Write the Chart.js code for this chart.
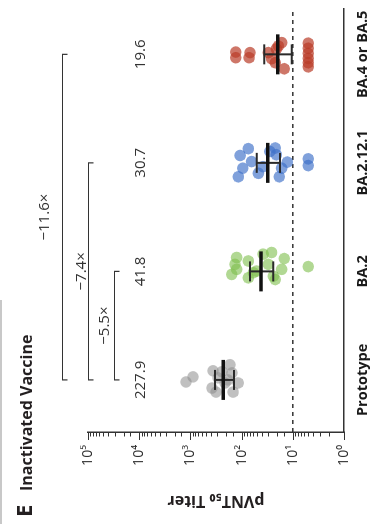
<!DOCTYPE html>
<html>
<head>
<meta charset="utf-8">
<script src="https://cdn.jsdelivr.net/npm/chart.js@4.4.1/dist/chart.umd.min.js"></script>
<style>
  html, body { margin: 0; padding: 0; background: #fff; overflow: hidden; }
  /* the figure is drawn upright and turned a quarter turn to the left */
  #wrap { position: absolute; left: 0; top: 0; width: 524px; height: 390px;
          transform-origin: 0 0; transform: translateY(524px) rotate(-90deg); }
</style>
</head>
<body>
<div id="wrap"><canvas id="chart" width="524" height="390"></canvas></div>
<script>
// Categorias e valores
const categories = ['Prototype', 'BA.2', 'BA.2.12.1', 'BA.4 or BA.5'];
const gmt = [227.9, 41.8, 30.7, 19.6];
const gmtLabels = ['227.9', '41.8', '30.7', '19.6'];
const errLow = [141, 24, 17.8, 10.5];
const errHigh = [331, 68.5, 50.7, 36.2];

const protoTiters = [1219, 889, 362, 379, 289, 169, 154, 147, 117, 211, 242, 316, 185];
const protoJitter = [-0.019, 0.028, 0.084, -0.075, 0.019, 0.14, 0.065, -0.112, -0.028, -0.028, 0.075, -0.112, 0];

const ba2Titers = [125, 135, 125, 156, 74, 74, 51, 38, 26, 30, 14.7, 16.5, 22, 59, 5, 24];
const ba2Jitter = [0.128, 0.065, 0.019, -0.028, 0.096, -0.059, 0.003, 0.159, 0.174, 0.065, 0.118, 0.019, -0.075, -0.012, 0.044, -0.044];

const ba2121Titers = [74, 107, 95, 116, 64, 47, 38, 28, 22, 21, 16.5, 18.4, 12.8, 5, 5];
const ba2121Jitter = [0.131, 0.068, -0.049, -0.128, 0.012, -0.096, -0.035, 0.105, 0.137, 0.075, -0.049, -0.128, 0.007, 0.037, -0.025];

const ba45Titers = [130, 130, 68.5, 71.6, 30, 22, 19.2, 16.5, 14.7, 26, 21, 5, 5, 5, 5, 5, 5];
const ba45Jitter = [0.021, -0.031, 0.016, -0.031, 0.016, -0.077, 0.077, 0.108, -0.133, -0.04, 0.05, 0.103, 0.056, 0.009, -0.037, -0.077, -0.115];

const lod = 10;

// Comparações (colchetes) e rótulos de fold
const bracketFrom = [0, 0, 0];
const bracketTo = [3, 2, 1];
const bracketLevel = [316000, 100000, 31600];
const foldLabels = ['\u221211.6\u00d7', '\u22127.4\u00d7', '\u22125.5\u00d7'];

// Ticks do eixo log
const yMajorTicks = [1, 10, 100, 1000, 10000, 100000];
const yTickLabels = ['10\u2070', '10\u00b9', '10\u00b2', '10\u00b3', '10\u2074', '10\u2075'];

const FONT = "'Open Sans', 'Noto Sans', sans-serif";
Chart.defaults.font.family = FONT;

function majorIndex(v) {
  for (let i = 0; i < yMajorTicks.length; i++) {
    if (Math.abs(Math.log10(v) - Math.log10(yMajorTicks[i])) < 1e-6) return i;
  }
  return -1;
}

function points(titers, jitter, idx) {
  return titers.map(function(t, i) { return { x: idx + jitter[i], y: t }; });
}

const extras = {
  id: 'extras',
  beforeDatasetsDraw(chart) {
    const ctx = chart.ctx, y = chart.scales.y, area = chart.chartArea;
    const py = y.getPixelForValue(lod);
    ctx.save();
    ctx.strokeStyle = '#333';
    ctx.lineWidth = 1.5;
    ctx.setLineDash([4, 4]);
    ctx.beginPath();
    ctx.moveTo(area.left, py);
    ctx.lineTo(area.right, py);
    ctx.stroke();
    ctx.restore();
  },
  afterDatasetsDraw(chart) {
    const ctx = chart.ctx, x = chart.scales.x, y = chart.scales.y;
    ctx.save();
    gmt.forEach(function(m, i) {
      const px = x.getPixelForValue(i);
      const lo = y.getPixelForValue(errLow[i]);
      const hi = y.getPixelForValue(errHigh[i]);
      ctx.strokeStyle = '#2a2a2a';
      ctx.lineWidth = 2;
      ctx.beginPath();
      ctx.moveTo(px, lo); ctx.lineTo(px, hi);
      ctx.moveTo(px - 10, lo); ctx.lineTo(px + 10, lo);
      ctx.moveTo(px - 10, hi); ctx.lineTo(px + 10, hi);
      ctx.stroke();
      const pm = y.getPixelForValue(m);
      ctx.strokeStyle = '#111';
      ctx.lineWidth = 3.5;
      ctx.beginPath();
      ctx.moveTo(px - 20, pm); ctx.lineTo(px + 20, pm);
      ctx.stroke();
    });
    ctx.restore();
  },
  afterDraw(chart) {
    const ctx = chart.ctx, x = chart.scales.x, y = chart.scales.y, area = chart.chartArea;
    ctx.save();

    // ticks do eixo y (maiores nas décadas)
    ctx.strokeStyle = '#333';
    ctx.lineWidth = 1;
    y.ticks.forEach(function(t) {
      const py = Math.round(y.getPixelForValue(t.value)) + 0.5;
      const len = majorIndex(t.value) >= 0 ? 8 : 4.5;
      ctx.beginPath();
      ctx.moveTo(area.left - len, py);
      ctx.lineTo(area.left, py);
      ctx.stroke();
    });

    // valores GMT acima de cada grupo
    ctx.fillStyle = '#333';
    ctx.font = '15px ' + FONT;
    ctx.textAlign = 'center';
    ctx.textBaseline = 'middle';
    gmtLabels.forEach(function(lbl, i) {
      ctx.fillText(lbl, x.getPixelForValue(i), y.getPixelForValue(9300));
    });

    // colchetes de comparação
    const gaps = [14, 3, 6];
    ctx.strokeStyle = '#333';
    ctx.lineWidth = 1.2;
    ctx.textBaseline = 'alphabetic';
    bracketLevel.forEach(function(lv, i) {
      const py = Math.round(y.getPixelForValue(lv)) + 0.5;
      const x1 = x.getPixelForValue(bracketFrom[i]);
      const x2 = x.getPixelForValue(bracketTo[i]);
      ctx.beginPath();
      ctx.moveTo(x1, py + 5); ctx.lineTo(x1, py);
      ctx.lineTo(x2, py); ctx.lineTo(x2, py + 5);
      ctx.stroke();
      ctx.fillText(foldLabels[i], (x1 + x2) / 2, py - gaps[i]);
    });

    // título do painel
    ctx.fillStyle = '#231f20';
    ctx.textAlign = 'left';
    ctx.font = 'bold 22px ' + FONT;
    ctx.fillText('E', 7, 32);
    ctx.font = 'bold 16px ' + FONT;
    ctx.fillText('Inactivated Vaccine', 33, 32);

    // borda cinza do painel
    ctx.strokeStyle = '#c8c8c8';
    ctx.lineWidth = 2;
    ctx.beginPath();
    ctx.moveTo(0, 1); ctx.lineTo(224, 1);
    ctx.stroke();
    ctx.restore();
  }
};

const ctx = document.getElementById('chart').getContext('2d');
const chart = new Chart(ctx, {
  type: 'scatter',
  data: {
    datasets: [{
      data: points(protoTiters, protoJitter, 0),
      backgroundColor: 'rgba(140, 140, 140, 0.55)'
    }, {
      data: points(ba2Titers, ba2Jitter, 1),
      backgroundColor: 'rgba(125, 190, 75, 0.6)'
    }, {
      data: points(ba2121Titers, ba2121Jitter, 2),
      backgroundColor: 'rgba(60, 110, 200, 0.65)'
    }, {
      data: points(ba45Titers, ba45Jitter, 3),
      backgroundColor: 'rgba(185, 60, 40, 0.7)'
    }]
  },
  options: {
    responsive: false,
    animation: false,
    events: [],
    elements: {
      point: { radius: 5.8, borderWidth: 0, hoverRadius: 5.8 }
    },
    layout: {
      padding: { top: 88, right: 3, left: 0, bottom: 0 }
    },
    plugins: {
      legend: { display: false },
      tooltip: { enabled: false }
    },
    scales: {
      x: {
        type: 'linear',
        min: -0.48,
        max: 3.42,
        afterBuildTicks: function(scale) {
          scale.ticks = categories.map(function(c, i) { return { value: i }; });
        },
        afterFit: function(scale) { scale.height = 46; },
        grid: { drawOnChartArea: false, drawTicks: false },
        border: { display: true, color: '#333', width: 1.5 },
        ticks: {
          padding: 10,
          color: '#1a1a1a',
          font: { size: 14.5, weight: 'bold' },
          callback: function(v) { return categories[v]; }
        }
      },
      y: {
        type: 'logarithmic',
        min: 1,
        max: 100000,
        afterFit: function(scale) { scale.width = 92; },
        grid: { drawOnChartArea: false, drawTicks: true, tickLength: 8, tickColor: 'rgba(0,0,0,0)' },
        border: { display: true, color: '#333', width: 1.5 },
        ticks: {
          autoSkip: false,
          padding: 5,
          color: '#333',
          font: { size: 14 },
          callback: function(v) {
            const k = majorIndex(v);
            return k >= 0 ? yTickLabels[k] : '';
          }
        },
        title: {
          display: true,
          text: 'pVNT\u2085\u2080 Titer',
          color: '#231f20',
          font: { size: 16, weight: 'bold' },
          padding: { top: 14, bottom: 0 }
        }
      }
    }
  },
  plugins: [extras]
});
</script>
</body>
</html>
